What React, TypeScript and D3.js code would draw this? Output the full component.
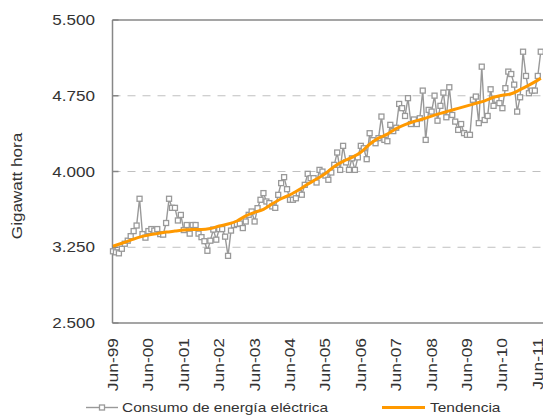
import React from 'react';
import * as d3 from 'd3';

// Monthly electricity consumption (GWh), Jun-1999 .. Jul-2011
const consumo: number[] = [
  3210, 3200, 3190, 3235, 3285, 3315, 3360, 3410, 3465, 3730, 3380, 3345,
  3410, 3430, 3415, 3430, 3380, 3375, 3490, 3730, 3640, 3640, 3515, 3570,
  3420, 3470, 3385, 3470, 3470, 3385, 3350, 3310, 3215, 3315, 3425, 3325,
  3430, 3430, 3355, 3165, 3415, 3470, 3480, 3485, 3440, 3505, 3571, 3604,
  3505, 3637, 3720, 3786, 3703, 3687, 3654, 3640, 3769, 3885, 3944, 3825,
  3720, 3720, 3735, 3786, 3770, 3868, 3977, 3934, 3934, 3891, 4016, 3999,
  3960, 3918, 3990, 4066, 4188, 4016, 4254, 4090, 4016, 4130, 4016, 4140,
  4254, 4230, 4122, 4379, 4310, 4280, 4330, 4544, 4313, 4300, 4462, 4400,
  4433, 4669, 4627, 4550, 4726, 4470, 4515, 4470, 4527, 4801, 4313, 4610,
  4593, 4751, 4503, 4650, 4781, 4537, 4834, 4560, 4494, 4412, 4470, 4380,
  4363, 4363, 4710, 4742, 4479, 5038, 4510, 4550, 4814, 4650, 4710, 4677,
  4627, 4825, 4989, 4965, 4860, 4593, 4735, 5186, 4946, 4775, 4801, 4801,
  4946, 5186,
];

// Trend at quarterly months
const trendMonth: number[] = [
  0, 3, 6, 9, 12, 15, 18, 21, 24, 27, 30, 33, 36, 39, 42, 45, 48, 51, 54, 57,
  60, 63, 66, 69, 72, 75, 78, 81, 84, 87, 90, 93, 96, 99, 102, 105, 108, 111,
  114, 117, 120, 123, 126, 129, 132, 135, 138, 141, 144, 145,
];
const trendValue: number[] = [
  3260, 3290, 3320, 3350, 3370, 3385, 3400, 3410, 3420, 3425, 3425, 3435,
  3460, 3480, 3510, 3560, 3595, 3625, 3680, 3730, 3770, 3820, 3875, 3925,
  3980, 4050, 4100, 4140, 4190, 4270, 4330, 4370, 4425, 4465, 4495, 4520,
  4548, 4575, 4600, 4625, 4650, 4675, 4700, 4735, 4755, 4770, 4810, 4855,
  4905, 4923,
];

const tickLabels: string[] = [
  'Jun-99', 'Jun-00', 'Jun-01', 'Jun-02', 'Jun-03', 'Jun-04', 'Jun-05',
  'Jun-06', 'Jun-07', 'Jun-08', 'Jun-09', 'Jun-10', 'Jun-11',
];
const yTicks: number[] = [2500, 3250, 4000, 4750, 5500];
const seriesNames: string[] = ['Consumo de energía eléctrica', 'Tendencia'];
const yTitle = 'Gigawatt hora';

const locale = d3.formatLocale({ decimal: ',', thousands: '.', grouping: [3], currency: ['$', ''] });
const fmt = locale.format(',.0f');

const FONT = "'Liberation Sans', Arial, sans-serif";
const TXT = '#333333';

function T(props: {
  x: number; y: number; rot?: number; s?: number; size?: number;
  anchor?: string; children: React.ReactNode;
}) {
  const { x, y, rot = 0, s = 1.2, size = 14, anchor = 'start', children } = props;
  return (
    <text
      transform={`translate(${x},${y}) rotate(${rot}) scale(${s},1)`}
      fontSize={size}
      fontFamily={FONT}
      textAnchor={anchor as any}
      fill={TXT}
    >
      {children}
    </text>
  );
}

export default function App() {
  const W = 543, H = 416;
  const left = 112.5, top = 20, bottom = 323;
  const step = 2.95;
  const x = d3.scaleLinear().domain([0, 146]).range([113, 113 + 146 * step]);
  const y = d3.scaleLinear().domain([2500, 5500]).range([bottom, top]);

  const line = d3.line<number>().x((_, i) => x(i)).y((d) => y(d));
  const trendLine = d3
    .line<number>()
    .x((_, i) => x(trendMonth[i]))
    .y((d) => y(d))
    .curve(d3.curveMonotoneX);

  const gray = '#999999';
  const orange = '#FF9900';
  const axisCol = '#878787';

  return (
    <svg
      width={W}
      height={H}
      style={{ position: 'absolute', left: 0, top: 0, background: '#fff' }}
    >
      {/* grid */}
      {yTicks.slice(1, 4).map((t) => (
        <line key={t} x1={left} x2={W} y1={y(t)} y2={y(t)} stroke="#c0c0c0" strokeWidth={1} strokeDasharray="8,7" />
      ))}
      {/* frame */}
      <line x1={left} x2={W} y1={top} y2={top} stroke={axisCol} strokeWidth={1.5} />
      <line x1={left} x2={W} y1={bottom} y2={bottom} stroke={axisCol} strokeWidth={1.5} />
      <line x1={left} x2={left} y1={top} y2={bottom} stroke={axisCol} strokeWidth={1.5} />
      {yTicks.map((t) => (
        <line key={'tk' + t} x1={left} x2={left + 6} y1={y(t)} y2={y(t)} stroke={axisCol} strokeWidth={1.5} />
      ))}
      {/* y tick labels */}
      {yTicks.map((t) => (
        <T key={'yl' + t} x={95} y={y(t) + 5} anchor="end" size={14} s={1.22}>
          {fmt(t)}
        </T>
      ))}
      {/* y title */}
      <T x={21.5} y={186} rot={-90} anchor="middle" size={14} s={1.22}>
        {yTitle}
      </T>
      {/* x labels */}
      {tickLabels.map((l, i) => (
        <T key={l} x={x(i * 12) + 5} y={338} rot={-90} anchor="end" size={14.5} s={1.2}>
          {l}
        </T>
      ))}
      {/* series */}
      <path d={line(consumo) || ''} fill="none" stroke={gray} strokeWidth={1.4} />
      {consumo.map((v, i) => (
        <rect key={i} x={x(i) - 2.5} y={y(v) - 2.5} width={5} height={5} fill="#fff" stroke={gray} strokeWidth={1.3} />
      ))}
      <path d={trendLine(trendValue) || ''} fill="none" stroke={orange} strokeWidth={3} />
      {/* legend */}
      <line x1={86} x2={118} y1={407.5} y2={407.5} stroke={gray} strokeWidth={1.4} />
      <rect x={99.5} y={405} width={5} height={5} fill="#fff" stroke={gray} strokeWidth={1.3} />
      <T x={122} y={411.5} size={13} s={1.19}>{seriesNames[0]}</T>
      <line x1={382} x2={425} y1={407.5} y2={407.5} stroke={orange} strokeWidth={3} />
      <T x={430} y={411.5} size={13} s={1.19}>{seriesNames[1]}</T>
    </svg>
  );
}
